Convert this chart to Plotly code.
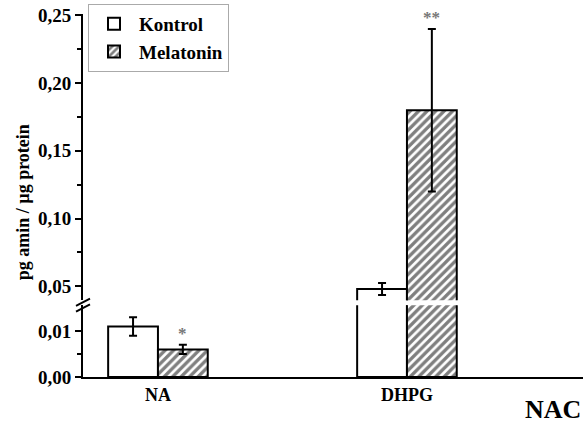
import plotly.graph_objects as go

categories = ["NA", "DHPG"]
kontrol = [0.011, 0.048]
kontrol_err = [0.002, 0.0045]
melatonin = [0.006, 0.18]
melatonin_err = [0.001, 0.06]
signif = ["*", "**"]

upper_ticks = [0.05, 0.10, 0.15, 0.20, 0.25]
upper_text = ["0,05", "0,10", "0,15", "0,20", "0,25"]
lower_ticks = [0.0, 0.01]
lower_text = ["0,00", "0,01"]

xpos = list(range(len(categories)))
FONT = "Liberation Serif"
W = 0.2

fig = go.Figure()
for ax, show in (("y", False), ("y2", True)):
    fig.add_trace(go.Bar(
        x=xpos, y=kontrol, width=W, offset=-W, name="Kontrol", yaxis=ax, xaxis="x",
        marker=dict(color="white", line=dict(color="black", width=2)),
        error_y=dict(type="data", array=kontrol_err, color="black", thickness=2, width=4),
        showlegend=show, legendgroup="k"))
    fig.add_trace(go.Bar(
        x=xpos, y=melatonin, width=W, offset=0, name="Melatonin", yaxis=ax, xaxis="x",
        marker=dict(color="white", line=dict(color="black", width=2),
                    pattern=dict(shape="/", fgcolor="black", bgcolor="white", size=6, solidity=0.55)),
        error_y=dict(type="data", array=melatonin_err, color="black", thickness=2, width=4),
        showlegend=show, legendgroup="m"))

tickfont = dict(family=FONT, size=19, color="black", weight="bold")
axis_common = dict(showline=True, linecolor="black", linewidth=2, ticks="outside",
                   ticklen=6, tickwidth=2, tickcolor="black", showgrid=False,
                   zeroline=False, tickfont=tickfont)

fig.update_layout(
    width=588, height=427,
    margin=dict(l=83, r=5, t=13, b=50),
    paper_bgcolor="white", plot_bgcolor="white",
    barmode="overlay",
    xaxis=dict(range=[-0.301, 1.707], tickvals=xpos, ticktext=categories, showline=True,
               linecolor="black", linewidth=2, ticks="", showgrid=False, zeroline=False,
               tickfont=dict(family=FONT, size=18, color="black", weight="bold"), anchor="y"),
    yaxis=dict(domain=[0, 0.198], range=[0, 0.01565], tickvals=lower_ticks, ticktext=lower_text,
               minor=dict(tickvals=[0.005], ticklen=4, tickwidth=2, tickcolor="black", ticks="outside"),
               anchor="x", **axis_common),
    yaxis2=dict(domain=[0.2115, 1], range=[0.0397, 0.251], tickvals=upper_ticks, ticktext=upper_text,
                minor=dict(tickvals=[0.075, 0.125, 0.175, 0.225], ticklen=4, tickwidth=2,
                           tickcolor="black", ticks="outside"),
                anchor="x", **axis_common),
    legend=dict(x=0.01, y=1.025, xanchor="left", yanchor="top", bgcolor="white",
                bordercolor="#aaaaaa", borderwidth=1, tracegroupgap=0, itemwidth=40,
                font=dict(family=FONT, size=19, color="black", weight="bold")),
    showlegend=True,
)

# significance marks
fig.add_annotation(x=xpos[0] + W / 2, y=melatonin[0] + melatonin_err[0], xref="x", yref="y",
                   text=signif[0], showarrow=False, yanchor="bottom", yshift=0,
                   font=dict(family=FONT, size=17, color="#777777", weight="bold"))
fig.add_annotation(x=xpos[1] + W / 2, y=melatonin[1] + melatonin_err[1], xref="x", yref="y2",
                   text=signif[1], showarrow=False, yanchor="bottom", yshift=0,
                   font=dict(family=FONT, size=17, color="#777777", weight="bold"))

# y title
fig.add_annotation(x=-0.145, y=0.48, xref="paper", yref="paper", text="pg amin / µg protein",
                   textangle=-90, showarrow=False,
                   font=dict(family=FONT, size=18, color="black", weight="bold"))
# NAC label
fig.add_annotation(x=1.0, y=-0.09, xref="paper", yref="paper", text="NAC", showarrow=False,
                   xanchor="right", yanchor="middle",
                   font=dict(family=FONT, size=26, color="black", weight="bold"))

# axis break marks
for dy in (0.0, -0.016):
    fig.add_shape(type="line", xref="paper", yref="paper",
                  x0=-0.014, y0=0.196 + dy, x1=0.014, y1=0.216 + dy,
                  line=dict(color="black", width=2))

fig.write_html("out.html")
